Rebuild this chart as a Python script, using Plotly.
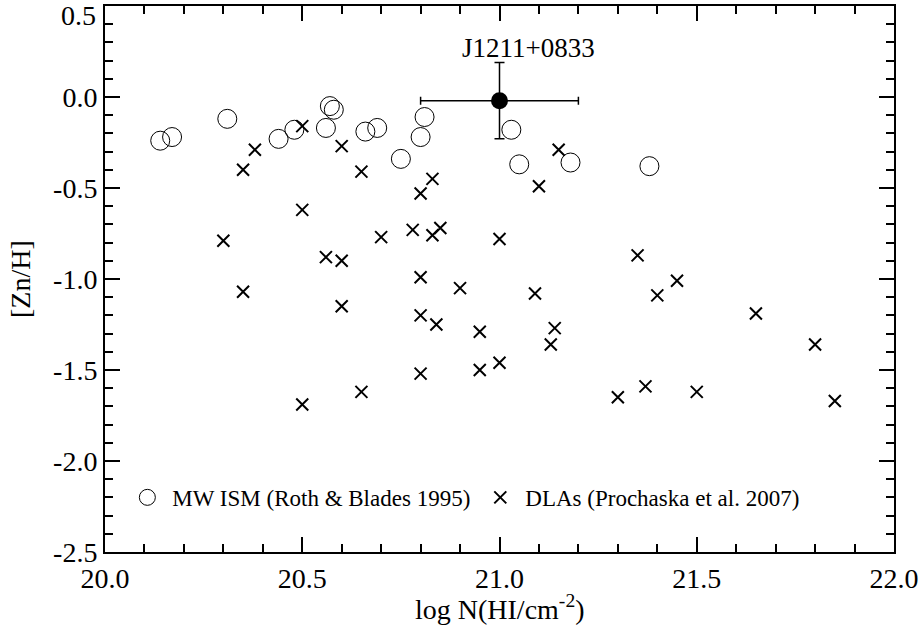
import plotly.graph_objects as go

# MW ISM (Roth & Blades 1995)
mw_x = [20.14, 20.17, 20.31, 20.44, 20.48, 20.56, 20.57, 20.58, 20.66, 20.69,
        20.75, 20.80, 20.81, 21.03, 21.05, 21.18, 21.38]
mw_y = [-0.24, -0.22, -0.12, -0.23, -0.18, -0.17, -0.05, -0.07, -0.19, -0.17,
        -0.34, -0.22, -0.11, -0.18, -0.37, -0.36, -0.38]

# DLAs (Prochaska et al. 2007)
dla_x = [20.35, 20.38, 20.50, 20.50, 20.60, 20.65, 20.83, 20.80, 21.15, 21.10,
         20.30, 20.35, 20.56, 20.60, 20.70, 20.78, 20.83, 20.85, 21.00,
         20.60, 20.80, 20.90, 20.80, 20.84, 20.95, 21.00, 20.80, 20.95,
         20.65, 20.50,
         21.35, 21.45, 21.40, 21.09, 21.14, 21.13, 21.65, 21.80, 21.30,
         21.37, 21.50, 21.85]
dla_y = [-0.40, -0.29, -0.16, -0.62, -0.27, -0.41, -0.45, -0.53, -0.29, -0.49,
         -0.79, -1.07, -0.88, -0.90, -0.77, -0.73, -0.76, -0.72, -0.78,
         -1.15, -0.99, -1.05, -1.20, -1.25, -1.29, -1.46, -1.52, -1.50,
         -1.62, -1.69,
         -0.87, -1.01, -1.09, -1.08, -1.27, -1.36, -1.19, -1.36, -1.65,
         -1.59, -1.62, -1.67]

# J1211+0833
qso_x = [21.0]
qso_y = [-0.02]
qso_xerr = [0.2]
qso_yerr = [0.21]
qso_label = "J1211+0833"

# tick labels (the top one, 0.5, is placed inside the figure like the original)
x_tickvals = [20.0, 20.5, 21.0, 21.5, 22.0]
x_ticktext = ["20.0", "20.5", "21.0", "21.5", "22.0"]
y_tickvals = [0.0, -0.5, -1.0, -1.5, -2.0, -2.5]
y_ticktext = ["0.0", "-0.5", "-1.0", "-1.5", "-2.0", "-2.5"]
y_top_label = "0.5"

x_title = "log N(HI/cm<sup>-2</sup>)"
y_title = "[Zn/H]"

FONT = "Liberation Serif"

fig = go.Figure()
fig.add_trace(go.Scatter(
    x=mw_x, y=mw_y, mode="markers", name="MW ISM (Roth & Blades 1995)",
    marker=dict(symbol="circle-open", size=19, color="black", line=dict(width=1, color="black")),
))
fig.add_trace(go.Scatter(
    x=dla_x, y=dla_y, mode="markers", name="DLAs (Prochaska et al. 2007)",
    marker=dict(symbol="x-thin", size=12, color="black", line=dict(width=2, color="black")),
))
fig.add_trace(go.Scatter(
    x=qso_x, y=qso_y, mode="markers", showlegend=False,
    marker=dict(symbol="circle", size=17, color="black"),
    error_x=dict(type="data", array=qso_xerr, color="black", thickness=1.5, width=4),
    error_y=dict(type="data", array=qso_yerr, color="black", thickness=1.5, width=5),
))
fig.add_annotation(x=21.073, y=0.27, text=qso_label, showarrow=False,
                   font=dict(family=FONT, size=27, color="black"))

# top y tick label
fig.add_annotation(xref="paper", yref="paper", x=0, y=1, xanchor="right", yanchor="middle",
                   xshift=-7, yshift=-9, text=y_top_label, showarrow=False,
                   font=dict(family=FONT, size=28, color="black"))
# axis titles
fig.add_annotation(xref="paper", yref="paper", x=0.5, y=0, xanchor="center", yanchor="middle",
                   yshift=-55, text=x_title, showarrow=False,
                   font=dict(family=FONT, size=28, color="black"))
fig.add_annotation(xref="paper", yref="paper", x=0, y=0.5, xanchor="center", yanchor="middle",
                   xshift=-85, textangle=-90, text=y_title, showarrow=False,
                   font=dict(family=FONT, size=28, color="black"))

axis_common = dict(
    showgrid=False, zeroline=False, showline=True, linecolor="black", linewidth=2,
    mirror="ticks", ticks="inside", ticklen=15, tickwidth=1.5, tickcolor="black",
    tickfont=dict(family=FONT, size=28, color="black"), ticklabeloverflow="allow",
    automargin=False,
    minor=dict(ticks="inside", ticklen=8, tickwidth=1.5, tickcolor="black", dtick=0.1),
)
fig.update_xaxes(range=[20, 22], tickmode="array", tickvals=x_tickvals, ticktext=x_ticktext,
                 **axis_common)
fig.update_yaxes(range=[-2.5, 0.5], tickmode="array", tickvals=y_tickvals, ticktext=y_ticktext,
                 **axis_common)
fig.update_yaxes(minor=dict(dtick=0.1, tick0=0))

fig.update_layout(
    width=924, height=625,
    margin=dict(l=105, r=30, t=6, b=73, autoexpand=False),
    plot_bgcolor="white", paper_bgcolor="white",
    font=dict(family=FONT, color="black"),
    legend=dict(orientation="h", x=0.022, y=0.10, xanchor="left", yanchor="middle",
                bgcolor="rgba(0,0,0,0)", font=dict(family=FONT, size=23, color="black"),
                itemwidth=40),
)
fig.write_html("out.html")
